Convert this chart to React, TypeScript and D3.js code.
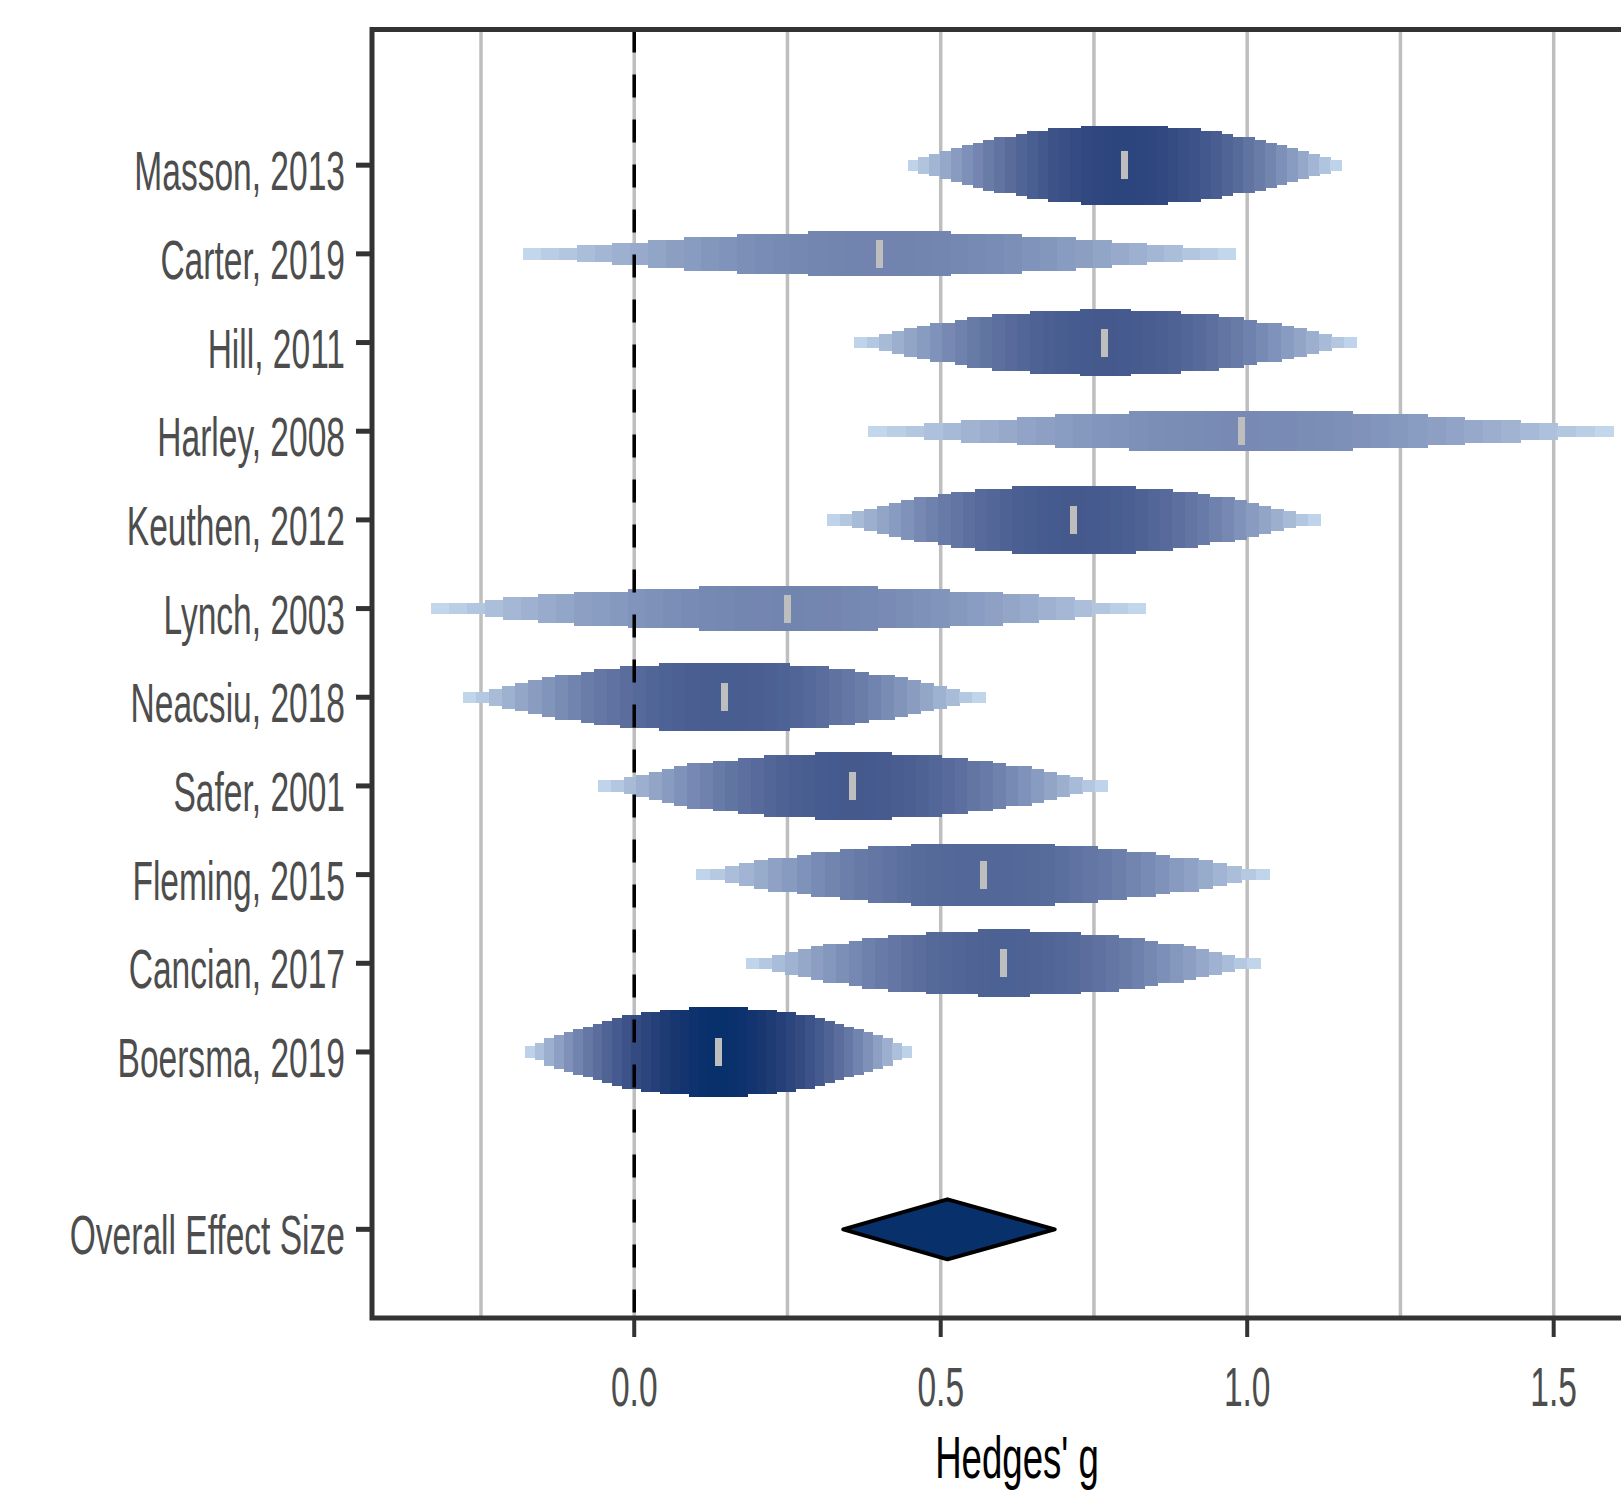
import React from 'react';
import * as d3 from 'd3';

// study rows, top to bottom
const studies = [
  'Masson, 2013', 'Carter, 2019', 'Hill, 2011', 'Harley, 2008', 'Keuthen, 2012', 'Lynch, 2003',
  'Neacsiu, 2018', 'Safer, 2001', 'Fleming, 2015', 'Cancian, 2017', 'Boersma, 2019',
];
const estimates = [0.8, 0.4, 0.768, 0.99, 0.717, 0.25, 0.147, 0.356, 0.569, 0.602, 0.137];
const lower = [0.446, -0.181, 0.359, 0.382, 0.315, -0.331, -0.279, -0.059, 0.101, 0.183, -0.178];
const upper = [1.153, 0.981, 1.178, 1.597, 1.119, 0.834, 0.573, 0.772, 1.037, 1.021, 0.452];
// relative precision (drop height) and relative weight (drop shade)
const precision = [0.88, 0.49, 0.73, 0.44, 0.76, 0.5, 0.76, 0.74, 0.7, 0.73, 1.0];
const weights = [0.86, 0.48, 0.73, 0.44, 0.73, 0.47, 0.71, 0.73, 0.65, 0.68, 1.0];

const overallLabel = 'Overall Effect Size';
const overall = { est: 0.511, lower: 0.341, upper: 0.686 };

const xMajor = [0, 0.5, 1.0, 1.5];
const xMinor = [-0.25, 0.25, 0.75, 1.25];
const xTitle = "Hedges' g";

const W = 1621;
const H = 1492;
const FONT = '"Liberation Sans", Arial, sans-serif';
const SQUEEZE = 0.61; // the text in the chart is drawn narrow

const App = () => {
  const x = d3.scaleLinear().domain([-0.4278, 1.6767]).range([372, 1662]);
  const y = d3.scaleLinear().domain([0, 14.53]).range([1318, 29.5]);
  const rowPos = (i: number) => 13 - i;
  const shade = d3.interpolateLab('#c6dbef', '#08306b');
  const hScale = d3.scaleLinear().domain([0, 1]).range([0, 90]);
  const unit = 5.65;
  const N = 40;

  const drops = studies.map((name, i) => {
    const est = estimates[i];
    const lo = lower[i];
    const hi = upper[i];
    const cy = y(rowPos(i));
    const hMax = hScale(precision[i]);
    const step = (hi - lo) / N;
    const slices = d3.range(N).map((k) => {
      const a = lo + k * step;
      const b = a + step;
      const mid = (a + b) / 2;
      const half = mid < est ? est - lo : hi - est;
      const f = Math.min(1, Math.abs(mid - est) / half);
      const s = 1 - f * f;
      const rel = 0.07 + 0.93 * s;
      const hh = Math.max(2, Math.round((rel * hMax) / unit)) * unit;
      return {
        x: x(a),
        w: x(b) - x(a) + 0.6,
        y: cy - hh / 2,
        h: hh,
        fill: shade(weights[i] * s),
      };
    });
    return { name, est, cy, slices };
  });

  const oy = y(1);
  const diamond = d3.line()([
    [x(overall.lower), oy],
    [x(overall.est), oy - 30],
    [x(overall.upper), oy],
    [x(overall.est), oy + 30],
  ]) + 'Z';

  const rowLabels = [
    ...studies.map((s, i) => ({ label: s, y: y(rowPos(i)) })),
    { label: overallLabel, y: oy },
  ];

  const [x0, x1] = x.range();
  const [yb, yt] = y.range();

  return (
    <>
      <style>{'body{margin:0;overflow:hidden;background:#fff}'}</style>
      <svg width={W} height={H} style={{ display: 'block' }}>
        <rect x={0} y={0} width={W} height={H} fill="#ffffff" />
        {/* grid */}
        {[...xMinor, ...xMajor].map((v) => (
          <line key={'g' + v} x1={x(v)} x2={x(v)} y1={yt} y2={yb} stroke="#bebebe" strokeWidth={3.5} />
        ))}
        {/* rain drops */}
        {drops.map((d) => (
          <g key={d.name} shapeRendering="crispEdges">
            {d.slices.map((s, k) => (
              <rect key={k} x={s.x} y={s.y} width={s.w} height={s.h} fill={s.fill} />
            ))}
            <rect x={x(d.est) - 3.5} y={d.cy - 14} width={7} height={28} fill="#bebebe" />
          </g>
        ))}
        {/* null line */}
        <line x1={x(0)} x2={x(0)} y1={yt} y2={yb} stroke="#000" strokeWidth={3.5} strokeDasharray="23 22" />
        {/* summary diamond */}
        <path d={diamond} fill="#08306b" stroke="#000" strokeWidth={4} strokeLinejoin="round" />
        {/* panel frame */}
        <rect x={x0} y={yt} width={x1 - x0} height={yb - yt} fill="none" stroke="#333333" strokeWidth={5} />
        {/* y axis */}
        {rowLabels.map((r) => (
          <g key={r.label}>
            <line x1={x0 - 16} x2={x0} y1={r.y} y2={r.y} stroke="#333333" strokeWidth={5} />
            <text
              transform={`translate(${x0 - 27},${r.y + 25}) scale(${SQUEEZE},1)`}
              textAnchor="end"
              fontFamily={FONT}
              fontSize={55}
              fill="#4d4d4d"
            >
              {r.label}
            </text>
          </g>
        ))}
        {/* x axis */}
        {xMajor.map((v) => (
          <g key={'t' + v}>
            <line x1={x(v)} x2={x(v)} y1={yb} y2={yb + 19} stroke="#333333" strokeWidth={4} />
            <text
              transform={`translate(${x(v)},1406) scale(${SQUEEZE},1)`}
              textAnchor="middle"
              fontFamily={FONT}
              fontSize={55}
              fill="#4d4d4d"
            >
              {d3.format('.1f')(v)}
            </text>
          </g>
        ))}
        <text
          transform={`translate(${(x0 + x1) / 2},1478) scale(${SQUEEZE},1)`}
          textAnchor="middle"
          fontFamily={FONT}
          fontSize={60}
          fill="#000"
        >
          {xTitle}
        </text>
      </svg>
    </>
  );
};

export default App;
